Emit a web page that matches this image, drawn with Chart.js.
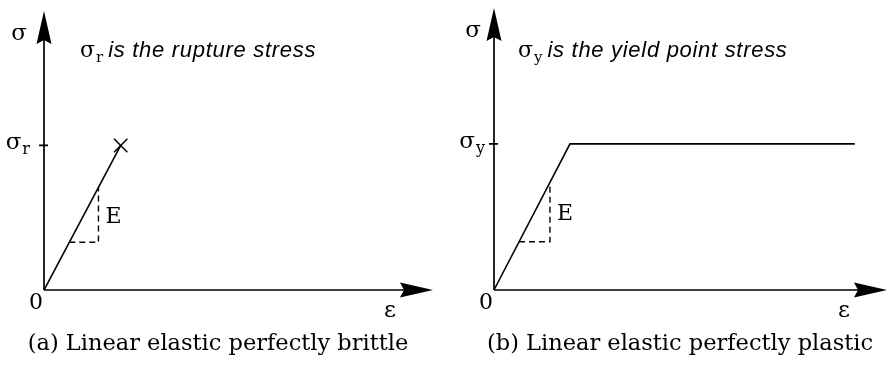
<!DOCTYPE html>
<html>
<head>
<meta charset="utf-8">
<script src="https://cdn.jsdelivr.net/npm/chart.js@4.4.1/dist/chart.umd.min.js"></script>
<style>
  body { margin: 0; background: #fff; }
  #wrap { position: relative; width: 888px; height: 370px; }
  canvas { position: absolute; top: 0; }
  #brittle { left: 0; }
  #plastic { left: 444px; }
</style>
</head>
<body>
<div id="wrap">
  <canvas id="brittle" width="444" height="370"></canvas>
  <canvas id="plastic" width="444" height="370"></canvas>
</div>
<script>
// axis ranges (strain, stress), stress normalised so sigma_r = sigma_y = 1
const strainMax = 5;
const stressMax = 1.93;

// (a) linear elastic, perfectly brittle
const brittleStrain = [0, 0.986];
const brittleStress = [0, 1];
const brittleSlopeStrain = [0.325, 0.70, 0.70];
const brittleSlopeStress = [0.33, 0.33, 0.71];

// (b) linear elastic, perfectly plastic
const plasticStrain = [0, 0.967, 4.59];
const plasticStress = [0, 1, 1];
const plasticSlopeStrain = [0.318, 0.712, 0.712];
const plasticSlopeStress = [0.33, 0.33, 0.736];

// stress level marked on the y axis
const ruptureStress = 1;
const yieldStress = 1;

const serif = '"DejaVu Serif", serif';
const sans = '"Liberation Sans", Arial, sans-serif';

function toPoints(xs, ys) {
    return xs.map((v, i) => ({ x: v, y: ys[i] }));
}

// filled arrowhead with a small notch at the base
function arrowhead(ctx, tx, ty, dx, dy) {
    const len = 33, half = 7.5, notch = 4;
    const nx = -dy, ny = dx;
    ctx.beginPath();
    ctx.moveTo(tx, ty);
    ctx.lineTo(tx - dx * len + nx * half, ty - dy * len + ny * half);
    ctx.lineTo(tx - dx * (len - notch), ty - dy * (len - notch));
    ctx.lineTo(tx - dx * len - nx * half, ty - dy * len - ny * half);
    ctx.closePath();
    ctx.fill();
}

// sigma with a subscript, drawn from the left edge x; returns its width
function drawSub(ctx, main, sub, x, y, size) {
    const subSize = Math.round(size * 0.68);
    ctx.textAlign = 'left';
    ctx.textBaseline = 'alphabetic';
    ctx.font = size + 'px ' + serif;
    ctx.fillText(main, x, y);
    const w = ctx.measureText(main).width;
    ctx.font = subSize + 'px ' + serif;
    ctx.fillText(sub, x + w + 1, y + 5);
    return w + 1 + ctx.measureText(sub).width;
}

function subWidth(ctx, main, sub, size) {
    ctx.font = size + 'px ' + serif;
    const w = ctx.measureText(main).width;
    ctx.font = Math.round(size * 0.68) + 'px ' + serif;
    return w + 1 + ctx.measureText(sub).width;
}

const stressStrainAxes = {
    id: 'stressStrainAxes',
    beforeDatasetsDraw(chart, args, opts) {
        const { ctx, chartArea, scales: { x, y } } = chart;
        const x0 = x.getPixelForValue(0);
        const y0 = y.getPixelForValue(0);
        const yl = y.getPixelForValue(opts.level);

        ctx.save();
        ctx.strokeStyle = '#000';
        ctx.fillStyle = '#000';
        ctx.lineWidth = 1.7;
        ctx.beginPath();
        ctx.moveTo(x0, y0);
        ctx.lineTo(chartArea.right - 25, y0);
        ctx.moveTo(x0, y0);
        ctx.lineTo(x0, chartArea.top + 25);
        // tick at the rupture / yield stress
        ctx.moveTo(x0 - 5, yl);
        ctx.lineTo(x0 + 4, yl);
        ctx.stroke();
        arrowhead(ctx, chartArea.right, y0, 1, 0);
        arrowhead(ctx, x0, chartArea.top, 0, -1);
        ctx.restore();
    },
    afterDraw(chart, args, opts) {
        const { ctx, chartArea, scales: { x, y } } = chart;
        const x0 = x.getPixelForValue(0);
        const y0 = y.getPixelForValue(0);
        const yl = y.getPixelForValue(opts.level);

        ctx.save();
        ctx.fillStyle = '#000';

        // axis names
        ctx.font = '23px ' + serif;
        ctx.textAlign = 'center';
        ctx.textBaseline = 'middle';
        ctx.fillText('σ', x0 - opts.sigmaGap, chartArea.top + 23);
        ctx.fillText('ε', chartArea.right - 43, y0 + 21);
        ctx.font = '22px ' + serif;
        ctx.fillText('0', x0 - 8, y0 + 13);

        // stress level label left of the tick
        const wl = subWidth(ctx, 'σ', opts.sub, 23);
        drawSub(ctx, 'σ', opts.sub, x0 - opts.tickGap - wl, yl + 4, 23);

        // E next to the slope triangle
        const ds = chart.data.datasets[1].data;
        ctx.font = '22px ' + serif;
        ctx.textAlign = 'left';
        ctx.textBaseline = 'middle';
        const ex = x.getPixelForValue(ds[1].x) + 7;
        const ey = (y.getPixelForValue(ds[1].y) + y.getPixelForValue(ds[2].y)) / 2 + 2;
        ctx.fillText('E', ex, ey);

        // note at the top
        const nx = x0 + opts.noteGap;
        const w = drawSub(ctx, 'σ', opts.sub, nx, 57, 22);
        ctx.font = 'italic 22px ' + sans;
        ctx.letterSpacing = '0.7px';
        ctx.textAlign = 'left';
        ctx.textBaseline = 'alphabetic';
        ctx.fillText(opts.note, nx + w + 5, 57);
        ctx.letterSpacing = '0px';

        // caption
        ctx.font = '22.5px ' + serif;
        ctx.textAlign = 'center';
        ctx.fillText(opts.caption, opts.captionX, 350);
        ctx.restore();
    }
};

function makeChart(id, curve, slope, padding, labels, crossAtEnd) {
    const n = curve.length;
    return new Chart(document.getElementById(id), {
        type: 'line',
        data: {
            datasets: [{
                data: curve,
                borderColor: '#000',
                borderWidth: 1.6,
                pointRadius: curve.map((p, i) => (crossAtEnd && i === n - 1) ? 9.5 : 0),
                pointStyle: 'crossRot',
                pointBorderColor: '#000',
                pointBorderWidth: 1.5,
                tension: 0,
                clip: false
            }, {
                data: slope,
                borderColor: '#000',
                borderWidth: 1.4,
                borderDash: [6, 4],
                pointRadius: 0,
                tension: 0,
                clip: false
            }]
        },
        options: {
            responsive: false,
            animation: false,
            layout: { padding: padding },
            scales: {
                x: { type: 'linear', min: 0, max: strainMax, display: false },
                y: { type: 'linear', min: 0, max: stressMax, display: false }
            },
            plugins: {
                legend: { display: false },
                tooltip: { enabled: false },
                stressStrainAxes: labels
            }
        },
        plugins: [stressStrainAxes]
    });
}

makeChart('brittle',
    toPoints(brittleStrain, brittleStress),
    toPoints(brittleSlopeStrain, brittleSlopeStress),
    { left: 44, right: 7, top: 8, bottom: 80 },
    { level: ruptureStress, sub: 'r', note: 'is the rupture stress', caption: '(a) Linear elastic perfectly brittle',
      captionX: 218, sigmaGap: 25, tickGap: 14, noteGap: 36 },
    true);

makeChart('plastic',
    toPoints(plasticStrain, plasticStress),
    toPoints(plasticSlopeStrain, plasticSlopeStress),
    { left: 50, right: 1, top: 8, bottom: 80 },
    { level: yieldStress, sub: 'y', note: 'is the yield point stress', caption: '(b) Linear elastic perfectly plastic',
      captionX: 236, sigmaGap: 21, tickGap: 9, noteGap: 24 },
    false);
</script>
</body>
</html>
